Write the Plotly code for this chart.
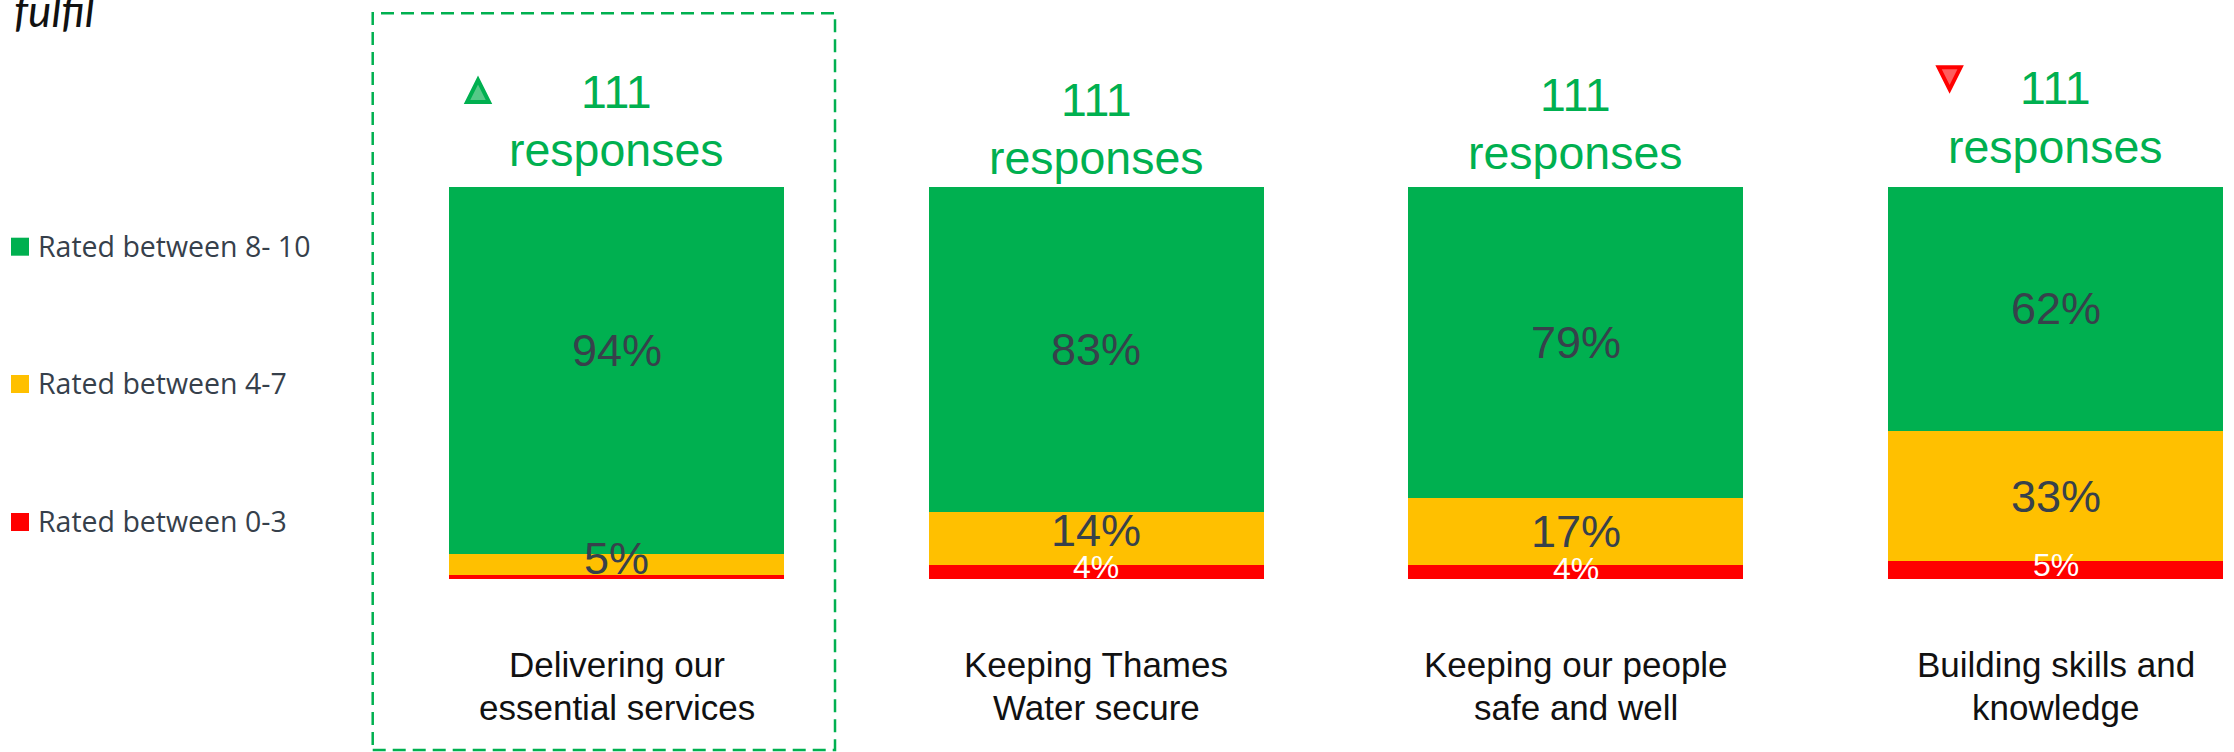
import plotly.graph_objects as go

# Survey results: number of respondents per rating band for each priority
categories = [
    "Delivering our<br>essential services",
    "Keeping Thames<br>Water secure",
    "Keeping our people<br>safe and well",
    "Building skills and<br>knowledge",
]
series_names = ["Rated between 8- 10", "Rated between 4-7", "Rated between 0-3"]
high_counts = [104, 92, 88, 69]   # rated 8-10
mid_counts = [6, 15, 19, 37]      # rated 4-7
low_counts = [1, 4, 4, 5]         # rated 0-3
trend = ["up", None, None, "down"]
highlighted = 0

GREEN, YELLOW, RED = "#00B050", "#FFC000", "#FF0000"
DARK_TEXT = "#37414B"
series_colors = [GREEN, YELLOW, RED]

W, H = 2234, 752
X_RANGE = [-1.2852, 3.3719]
Y_RANGE = [-44.13, 147.70]
PX_PER_X = W / (X_RANGE[1] - X_RANGE[0])
PX_PER_Y = H / (Y_RANGE[1] - Y_RANGE[0])


def y_at(py):
    """Data y for a pixel row measured from the top of the figure."""
    return Y_RANGE[1] - py / PX_PER_Y


def dx(px):
    return px / PX_PER_X


def dy(px):
    return px / PX_PER_Y


def paper_x(px):
    return px / W


def paper_y(py):
    return 1 - py / H


idx = list(range(len(categories)))
totals = [h + m + l for h, m, l in zip(high_counts, mid_counts, low_counts)]
high_pct = [100 * c / t for c, t in zip(high_counts, totals)]
mid_pct = [100 * c / t for c, t in zip(mid_counts, totals)]
low_pct = [100 * c / t for c, t in zip(low_counts, totals)]

fig = go.Figure()
stack = [("low", low_pct, RED, series_names[2]),
         ("mid", mid_pct, YELLOW, series_names[1]),
         ("high", high_pct, GREEN, series_names[0])]
for key, vals, color, name in stack:
    fig.add_trace(go.Bar(
        x=idx, y=vals, name=name, width=0.698,
        marker=dict(color=color, line=dict(width=0)),
        hoverinfo="skip", showlegend=False,
    ))

annotations = []
shapes = []

# segment value labels (nudged up where a label would collide)
label_nudge = {("high", 0): 20, ("mid", 0): 6, ("mid", 1): 8,
               ("low", 1): 5, ("low", 2): 3, ("low", 3): 5}
base = [0.0] * len(idx)
for key, vals, color, name in stack:
    for i, v in enumerate(vals):
        if round(v) >= 2:
            white = key == "low"
            annotations.append(dict(
                x=i, y=base[i] + v / 2, xref="x", yref="y",
                text=f"{round(v)}%", showarrow=False,
                yshift=label_nudge.get((key, i), 0),
                font=dict(family="Liberation Sans, Arial, sans-serif",
                          size=32 if white else 45,
                          color="white" if white else DARK_TEXT),
            ))
        base[i] += v

# response counts above each bar
header_rows = [92, 100, 95, 88.3]
for i, t in enumerate(totals):
    for text, row in ((str(t), header_rows[i]), ("responses", header_rows[i] + 58.4)):
        annotations.append(dict(
            x=i, y=y_at(row), xref="x", yref="y", text=text, showarrow=False,
            font=dict(family="Liberation Sans, Arial, sans-serif", size=46.5, color=GREEN),
        ))

# trend arrows next to the counts
trend_style = {"up": ("#00B050", "#55C987", -138.5, -1),
               "down": ("#FF0000", "#FF5C5C", -106, -10)}
for i, tdir in enumerate(trend):
    if tdir is None:
        continue
    line_c, fill_c, offx, offy = trend_style[tdir]
    cx = i + dx(offx)
    cy = y_at(header_rows[i] + offy)
    hw, hh = dx(11), dy(11)
    if tdir == "up":
        path = f"M {cx - hw} {cy - hh} L {cx + hw} {cy - hh} L {cx} {cy + hh} Z"
    else:
        path = f"M {cx - hw} {cy + hh} L {cx + hw} {cy + hh} L {cx} {cy - hh} Z"
    shapes.append(dict(type="path", path=path, xref="x", yref="y",
                       fillcolor=fill_c, line=dict(color=line_c, width=4)))

# category names under the bars
for i, cat in enumerate(categories):
    for k, line in enumerate(cat.split("<br>")):
        annotations.append(dict(
            x=i, y=y_at(664.2 + 43.3 * k), xref="x", yref="y", text=line,
            showarrow=False,
            font=dict(family="Liberation Sans, Arial, sans-serif", size=35, color="#111111"),
        ))

# dashed frame around the highlighted priority
shapes.append(dict(
    type="rect", xref="x", yref="paper",
    x0=highlighted + dx(-243.8), x1=highlighted + dx(218.5),
    y0=paper_y(750), y1=paper_y(13.3),
    line=dict(color=GREEN, width=2.5, dash="13px,7px"),
))

# rating key on the left
key_rows = [246.7, 384, 522]
for name, color, row in zip(series_names, series_colors, key_rows):
    shapes.append(dict(type="rect", xref="paper", yref="paper",
                       x0=paper_x(11), x1=paper_x(29),
                       y0=paper_y(row + 9), y1=paper_y(row - 9),
                       fillcolor=color, line=dict(width=0)))
    annotations.append(dict(
        x=paper_x(36), y=paper_y(row - 1), xref="paper", yref="paper",
        xanchor="left", yanchor="middle", text=name, showarrow=False,
        font=dict(family="Open Sans, Noto Sans, sans-serif", size=28.5, color="#36404B"),
    ))

# tail of the title wrapping above the chart
annotations.append(dict(
    x=paper_x(12), y=paper_y(38), xref="paper", yref="paper",
    xanchor="left", yanchor="bottom", text="fulfil", showarrow=False,
    font=dict(family="Lato, DejaVu Sans, sans-serif", size=44, color="#111111", style="italic"),
))

fig.update_layout(
    width=W, height=H, barmode="stack",
    margin=dict(l=0, r=0, t=0, b=0),
    paper_bgcolor="white", plot_bgcolor="white",
    xaxis=dict(range=X_RANGE, visible=False, fixedrange=True),
    yaxis=dict(range=Y_RANGE, visible=False, fixedrange=True),
    annotations=annotations, shapes=shapes, showlegend=False,
)

fig.write_html("out.html")
